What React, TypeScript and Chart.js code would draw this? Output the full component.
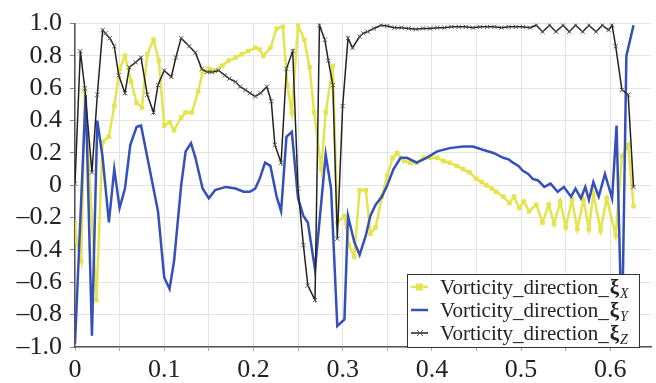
import React, { useEffect, useRef } from "react";
import { Chart, registerables } from "chart.js";

Chart.register(...registerables);

// [x, y] samples
const xiX: [number, number][] = [
  [0, -0.23], [0.002, -0.35], [0.007, -0.47], [0.011, 0.58], [0.024, -0.71], [0.031, 0.27], [0.038, 0.30],
  [0.044, 0.49], [0.050, 0.72], [0.056, 0.80], [0.063, 0.64], [0.069, 0.51], [0.075, 0.48], [0.081, 0.81],
  [0.088, 0.90], [0.094, 0.77], [0.100, 0.37], [0.106, 0.39], [0.111, 0.34], [0.119, 0.42], [0.124, 0.45],
  [0.131, 0.45], [0.138, 0.58], [0.143, 0.70], [0.150, 0.72], [0.157, 0.71], [0.165, 0.74], [0.172, 0.77],
  [0.180, 0.79], [0.187, 0.81], [0.194, 0.83], [0.202, 0.85], [0.207, 0.84], [0.211, 0.80], [0.219, 0.85],
  [0.226, 0.97], [0.233, 0.98], [0.238, 0.62], [0.243, 0.45], [0.250, 0.99], [0.257, 0.90], [0.263, 0.73],
  [0.268, 0.45], [0.276, 0.10], [0.281, 0.45], [0.289, 0.74], [0.294, -0.23], [0.302, -0.19], [0.307, -0.37],
  [0.313, -0.44], [0.319, -0.03], [0.326, -0.03], [0.331, -0.30], [0.337, -0.26], [0.344, -0.07], [0.350, 0.06],
  [0.356, 0.17], [0.361, 0.20], [0.369, 0.15], [0.376, 0.14], [0.383, 0.14], [0.391, 0.17], [0.398, 0.17],
  [0.406, 0.17], [0.413, 0.15], [0.420, 0.14], [0.428, 0.12], [0.435, 0.10], [0.442, 0.08], [0.450, 0.04],
  [0.456, 0.02], [0.461, 0.00], [0.467, -0.02], [0.472, -0.04], [0.480, -0.07], [0.487, -0.11], [0.492, -0.07],
  [0.498, -0.14], [0.503, -0.10], [0.509, -0.16], [0.517, -0.12], [0.524, -0.23], [0.531, -0.12], [0.537, -0.24],
  [0.544, -0.10], [0.550, -0.26], [0.557, -0.09], [0.563, -0.27], [0.570, -0.09], [0.576, -0.27], [0.581, -0.05],
  [0.589, -0.28], [0.596, -0.08], [0.606, -0.31], [0.613, 0.18], [0.620, 0.25], [0.626, -0.13],
];

const xiY: [number, number][] = [
  [0, -0.98], [0.012, 0.56], [0.019, -0.93], [0.025, 0.40], [0.031, 0.17], [0.038, -0.23], [0.044, 0.10],
  [0.050, -0.14], [0.056, -0.02], [0.062, 0.25], [0.069, 0.36], [0.074, 0.37], [0.083, 0.12], [0.093, -0.16],
  [0.100, -0.57], [0.106, -0.64], [0.111, -0.47], [0.119, 0.00], [0.124, 0.21], [0.130, 0.26], [0.135, 0.17],
  [0.143, -0.02], [0.150, -0.08], [0.157, -0.03], [0.169, -0.01], [0.180, -0.02], [0.189, -0.04], [0.196, -0.04],
  [0.202, -0.02], [0.207, 0.04], [0.213, 0.14], [0.219, 0.12], [0.226, -0.07], [0.231, -0.16], [0.237, 0.30],
  [0.243, 0.33], [0.250, -0.08], [0.256, -0.19], [0.261, -0.23], [0.269, -0.52], [0.281, 0.19], [0.287, -0.02],
  [0.294, -0.87], [0.302, -0.83], [0.306, -0.19], [0.313, -0.35], [0.319, -0.43], [0.326, -0.31], [0.331, -0.19],
  [0.337, -0.12], [0.344, -0.07], [0.350, 0.00], [0.357, 0.10], [0.365, 0.17], [0.372, 0.17], [0.383, 0.14],
  [0.394, 0.17], [0.406, 0.21], [0.420, 0.23], [0.435, 0.24], [0.446, 0.24], [0.457, 0.22], [0.469, 0.20],
  [0.480, 0.17], [0.486, 0.16], [0.491, 0.14], [0.497, 0.12], [0.502, 0.09], [0.508, 0.07], [0.513, 0.04],
  [0.519, 0.03], [0.526, -0.01], [0.533, 0.01], [0.541, -0.04], [0.548, -0.01], [0.556, -0.07], [0.561, -0.02],
  [0.567, -0.08], [0.572, -0.01], [0.576, -0.09], [0.581, 0.02], [0.587, -0.07], [0.594, 0.07], [0.602, -0.08],
  [0.607, 0.37], [0.613, -0.95], [0.618, 0.80], [0.626, 0.99],
];

const xiZ: [number, number][] = [
  [0, 0.01], [0.006, 0.83], [0.011, 0.60], [0.019, 0.08], [0.025, 0.56], [0.031, 0.96], [0.034, 0.94],
  [0.039, 0.91], [0.044, 0.86], [0.049, 0.68], [0.056, 0.57], [0.061, 0.73], [0.068, 0.76], [0.074, 0.79],
  [0.081, 0.56], [0.088, 0.45], [0.093, 0.62], [0.100, 0.71], [0.108, 0.67], [0.113, 0.79], [0.119, 0.91],
  [0.128, 0.86], [0.135, 0.82], [0.142, 0.72], [0.148, 0.70], [0.154, 0.70], [0.161, 0.71], [0.168, 0.68],
  [0.173, 0.66], [0.180, 0.64], [0.185, 0.61], [0.191, 0.59], [0.196, 0.57], [0.202, 0.55], [0.208, 0.57],
  [0.215, 0.61], [0.220, 0.52], [0.224, 0.25], [0.231, 0.14], [0.237, 0.72], [0.244, 0.83], [0.250, -0.02],
  [0.256, -0.37], [0.261, -0.62], [0.269, -0.71], [0.274, 0.99], [0.280, 0.90], [0.284, 0.77], [0.289, 0.62],
  [0.294, -0.33], [0.300, 0.49], [0.306, 0.91], [0.311, 0.85], [0.319, 0.92], [0.323, 0.94], [0.328, 0.95],
  [0.335, 0.97], [0.343, 0.99], [0.350, 0.985], [0.358, 0.975], [0.366, 0.975], [0.374, 0.97], [0.382, 0.965],
  [0.390, 0.97], [0.398, 0.97], [0.406, 0.975], [0.414, 0.975], [0.422, 0.98], [0.430, 0.98], [0.438, 0.98],
  [0.446, 0.975], [0.454, 0.98], [0.462, 0.98], [0.470, 0.98], [0.478, 0.975], [0.486, 0.98], [0.494, 0.98],
  [0.502, 0.98], [0.510, 0.975], [0.517, 0.99], [0.524, 0.95], [0.532, 0.99], [0.539, 0.95], [0.547, 0.99],
  [0.554, 0.95], [0.561, 0.99], [0.569, 0.95], [0.576, 0.99], [0.584, 0.95], [0.591, 0.99], [0.598, 0.96],
  [0.602, 0.99], [0.606, 0.86], [0.613, 0.59], [0.620, 0.56], [0.626, -0.01],
];

const legendBase = "Vorticity_direction_";
const legendSymbol = "\u03BE";
const legendSubs = ["X", "Y", "Z"];

const COLOR_X = "#e4e44e";
const COLOR_Y = "#3550b8";
const COLOR_Z = "#222222";
const SERIF = "'Liberation Serif', 'Times New Roman', serif";

const toPts = (arr: [number, number][]) => arr.map(([x, y]) => ({ x, y }));

const legendPlugin = {
  id: "customLegend",
  afterDraw(chart: any) {
    const ctx: CanvasRenderingContext2D = chart.ctx;
    ctx.save();
    const bx = 407, by = 274, bw = 232, bh = 73;
    ctx.fillStyle = "#ffffff";
    ctx.fillRect(bx, by, bw, bh);
    ctx.strokeStyle = "#333333";
    ctx.lineWidth = 1;
    ctx.strokeRect(bx + 0.5, by + 0.5, bw, bh);

    const rows = [287, 310, 333];
    const colors = [COLOR_X, COLOR_Y, COLOR_Z];
    rows.forEach((cy, i) => {
      ctx.strokeStyle = colors[i];
      ctx.lineWidth = i === 2 ? 1.5 : 2.5;
      ctx.beginPath();
      ctx.moveTo(411, cy);
      ctx.lineTo(428, cy);
      ctx.stroke();
      if (i === 0) {
        ctx.fillStyle = COLOR_X;
        ctx.fillRect(416, cy - 3.5, 7, 7);
      } else if (i === 2) {
        ctx.strokeStyle = "#555";
        ctx.lineWidth = 1;
        ctx.beginPath();
        ctx.moveTo(417, cy - 3); ctx.lineTo(423, cy + 3);
        ctx.moveTo(417, cy + 3); ctx.lineTo(423, cy - 3);
        ctx.stroke();
      }
      const base = cy + 7;
      ctx.fillStyle = "#222";
      ctx.textBaseline = "alphabetic";
      ctx.textAlign = "left";
      ctx.font = `21px ${SERIF}`;
      ctx.fillText(legendBase, 440, base);
      let x = 440 + ctx.measureText(legendBase).width + 1;
      ctx.font = `bold 21px ${SERIF}`;
      ctx.fillText(legendSymbol, x, base);
      x += ctx.measureText(legendSymbol).width + 1;
      ctx.font = `italic 14px ${SERIF}`;
      ctx.fillText(legendSubs[i], x, base + 4);
    });
    ctx.restore();
  },
};

export default function App() {
  const ref = useRef<HTMLCanvasElement | null>(null);

  useEffect(() => {
    if (!ref.current) return;
    const chart = new Chart(ref.current, {
      type: "scatter",
      data: {
        datasets: [
          {
            label: legendBase + legendSymbol + legendSubs[0],
            data: toPts(xiX),
            showLine: true,
            borderColor: COLOR_X,
            backgroundColor: COLOR_X,
            borderWidth: 2.5,
            pointStyle: "rect",
            pointRadius: 3.2,
            pointBorderWidth: 0,
            order: 3,
          },
          {
            label: legendBase + legendSymbol + legendSubs[1],
            data: toPts(xiY),
            showLine: true,
            borderColor: COLOR_Y,
            backgroundColor: COLOR_Y,
            borderWidth: 2.5,
            pointRadius: 0,
            order: 2,
          },
          {
            label: legendBase + legendSymbol + legendSubs[2],
            data: toPts(xiZ),
            showLine: true,
            borderColor: COLOR_Z,
            backgroundColor: COLOR_Z,
            borderWidth: 1.5,
            pointStyle: "crossRot",
            pointRadius: 3,
            pointBorderColor: "#555",
            pointBorderWidth: 1,
            order: 1,
          },
        ],
      },
      options: {
        responsive: false,
        animation: false,
        layout: { padding: { top: 23, right: 0, left: 0, bottom: 0 } },
        plugins: { legend: { display: false }, tooltip: { enabled: false } },
        scales: {
          x: {
            type: "linear",
            min: 0,
            max: 0.6456,
            afterFit: (s: any) => { s.height = 36; },
            grid: { color: "#e4e4e4", lineWidth: 1, tickLength: 4, tickColor: "#aaa" },
            border: { color: "#555", width: 1.5 },
            ticks: {
              stepSize: 0.05,
              includeBounds: false,
              autoSkip: false,
              maxRotation: 0,
              padding: 4,
              color: "#222",
              font: { family: SERIF, size: 26 },
              callback: (v: any) => {
                const k = Math.round(Number(v) * 20);
                if (k % 2 !== 0) return "";
                return k === 0 ? "0" : (k / 20).toFixed(1);
              },
            },
          },
          y: {
            min: -1,
            max: 1,
            afterFit: (s: any) => { s.width = 75; },
            grid: { color: "#e4e4e4", lineWidth: 1, tickLength: 5, tickColor: "#888" },
            border: { color: "#555", width: 1.5 },
            ticks: {
              stepSize: 0.2,
              autoSkip: false,
              padding: 8,
              color: "#222",
              font: { family: SERIF, size: 26 },
              callback: (v: any) => {
                const n = Math.round(Number(v) * 10) / 10;
                if (Math.abs(n) < 1e-9) return "0";
                return n < 0 ? "\u2013" + Math.abs(n).toFixed(1) : n.toFixed(1);
              },
            },
          },
        },
      },
      plugins: [legendPlugin],
    });
    return () => chart.destroy();
  }, []);

  return (
    <div style={{ position: "fixed", left: 0, top: 0, width: 656, height: 383, background: "#fff" }}>
      <canvas ref={ref} width={656} height={383} />
    </div>
  );
}
